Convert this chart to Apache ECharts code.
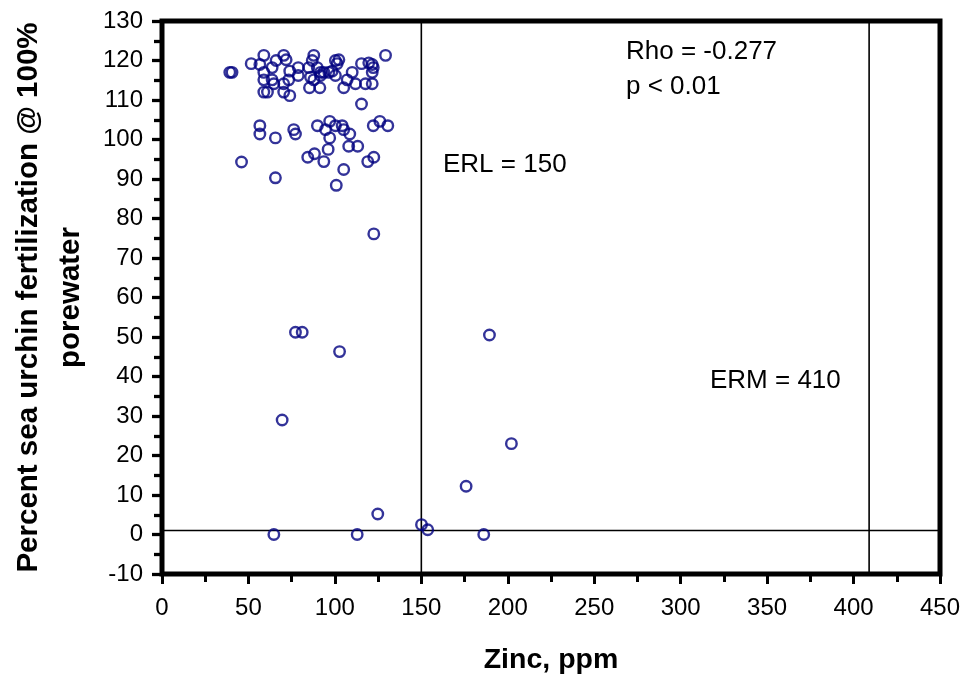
<!DOCTYPE html>
<html>
<head>
<meta charset="utf-8">
<script src="https://cdn.jsdelivr.net/npm/echarts@6/dist/echarts.min.js"></script>
<style>html,body{margin:0;padding:0;background:#fff}#c{width:969px;height:683px}</style>
</head>
<body>
<div id="c"></div>
<script>
// Zinc (ppm) and % sea urchin fertilization @ 100% porewater
const zinc = [
  39.2,40.5,51.6,56.6,58.9,58.9,58.9,58.9,61.0,63.7,66.0,70.4,71.8,73.9,73.3,70.4,70.4,73.9,63.7,64.7,
  78.8,78.8,84.9,86.9,87.8,85.9,89.8,91.7,93.6,96.5,98.4,100.3,102.3,101.3,100.3,110.0,107.1,115.4,119.6,121.6,
  122.2,121.6,111.9,117.7,121.6,129.3,105.1,85.3,91.3,115.4,91.7,87.8,
  56.6,56.6,65.6,76.2,77.2,46.0,65.6,89.9,94.6,97.0,97.0,100.3,104.2,105.1,108.6,96.1,108.0,113.2,84.3,88.2,
  93.6,105.1,100.8,119.0,122.5,122.2,126.0,130.6,
  122.5,77.2,81.1,102.7,69.5,64.7,112.9,124.8,150.1,153.7,175.9,186.1,189.4,202.1
];
const fert = [
  117.0,117.0,119.2,119.0,121.3,117.0,115.1,112.0,112.0,118.2,120.0,121.3,120.2,117.3,115.1,114.1,112.0,111.1,115.1,114.1,
  118.2,116.2,118.2,120.0,121.3,115.8,118.2,117.0,117.0,117.0,117.3,120.0,120.2,119.2,116.2,117.0,115.1,119.2,119.4,119.0,
  118.2,117.0,114.1,114.1,114.1,121.3,113.1,113.1,113.1,109.0,116.2,115.1,
  103.5,101.4,100.4,102.5,101.4,94.3,90.3,103.5,102.5,104.6,100.4,103.5,103.5,102.5,101.4,97.5,98.3,98.3,95.5,96.4,
  94.4,92.4,88.4,94.4,95.5,103.5,104.6,103.5,
  76.1,51.2,51.2,46.3,29.0,0,0,5.2,2.5,1.2,12.2,0,50.5,23.0
];
const erl = 150;
const erm = 409;
const zeroLine = 1;
const xMin = 0, xMax = 450, xStep = 50;
const yMin = -10, yMax = 130, yStep = 10;
const annotations = ['Rho = -0.277', 'p < 0.01', 'ERL = 150', 'ERM = 410'];

const FONT = '"Liberation Sans", Arial, sans-serif';
const points = zinc.map((x, i) => [x, fert[i]]);
const lineStyle = { color: '#000', width: 1.6 };

const chart = echarts.init(document.getElementById('c'), null, { renderer: 'canvas' });
chart.setOption({
  animation: false,
  backgroundColor: '#fff',
  grid: { left: 162, right: 29, top: 21, bottom: 109, show: true, borderColor: '#000', borderWidth: 5, backgroundColor: 'transparent' },
  xAxis: {
    type: 'value', min: xMin, max: xMax, interval: xStep,
    name: 'Zinc, ppm', nameLocation: 'middle', nameGap: 72,
    nameTextStyle: { fontFamily: FONT, fontSize: 28.5, fontWeight: 'bold', color: '#000' },
    axisLine: { show: false, onZero: false },
    axisTick: { show: true, length: 10, lineStyle: { color: '#000', width: 3 } },
    minorTick: { show: true, splitNumber: 2, length: 8, lineStyle: { color: '#000', width: 3 } },
    splitLine: { show: false },
    axisLabel: { fontFamily: FONT, fontSize: 24, color: '#000', margin: 22 }
  },
  yAxis: {
    type: 'value', min: yMin, max: yMax, interval: yStep,
    name: 'Percent sea urchin fertilization @ 100%\nporewater', nameLocation: 'middle', nameGap: 68,
    nameTextStyle: { fontFamily: FONT, fontSize: 29.5, fontWeight: 'bold', color: '#000', lineHeight: 42, align: 'center' },
    axisLine: { show: false, onZero: false },
    axisTick: { show: true, length: 10, lineStyle: { color: '#000', width: 3.3 } },
    minorTick: { show: true, splitNumber: 2, length: 8, lineStyle: { color: '#000', width: 3.3 } },
    splitLine: { show: false },
    axisLabel: { fontFamily: FONT, fontSize: 24, color: '#000', margin: 19 }
  },
  series: [
    { type: 'line', silent: true, symbol: 'none', lineStyle, data: [[erl, yMin], [erl, yMax]], z: 1 },
    { type: 'line', silent: true, symbol: 'none', lineStyle, data: [[erm, yMin], [erm, yMax]], z: 1 },
    { type: 'line', silent: true, symbol: 'none', lineStyle, data: [[xMin, zeroLine], [xMax, zeroLine]], z: 1 },
    {
      type: 'scatter', symbol: 'circle', symbolSize: 10.5, data: points, z: 3,
      itemStyle: { color: 'rgba(0,0,0,0)', borderColor: '#000080', borderWidth: 2.4 }
    }
  ],
  graphic: [
    { type: 'text', left: 626, top: 39, style: { text: annotations[0], font: '26px ' + FONT, fill: '#000' } },
    { type: 'text', left: 626, top: 74, style: { text: annotations[1], font: '26px ' + FONT, fill: '#000' } },
    { type: 'text', left: 443, top: 152, style: { text: annotations[2], font: '26px ' + FONT, fill: '#000' } },
    { type: 'text', left: 710, top: 368, style: { text: annotations[3], font: '26px ' + FONT, fill: '#000' } }
  ]
});
</script>
</body>
</html>
